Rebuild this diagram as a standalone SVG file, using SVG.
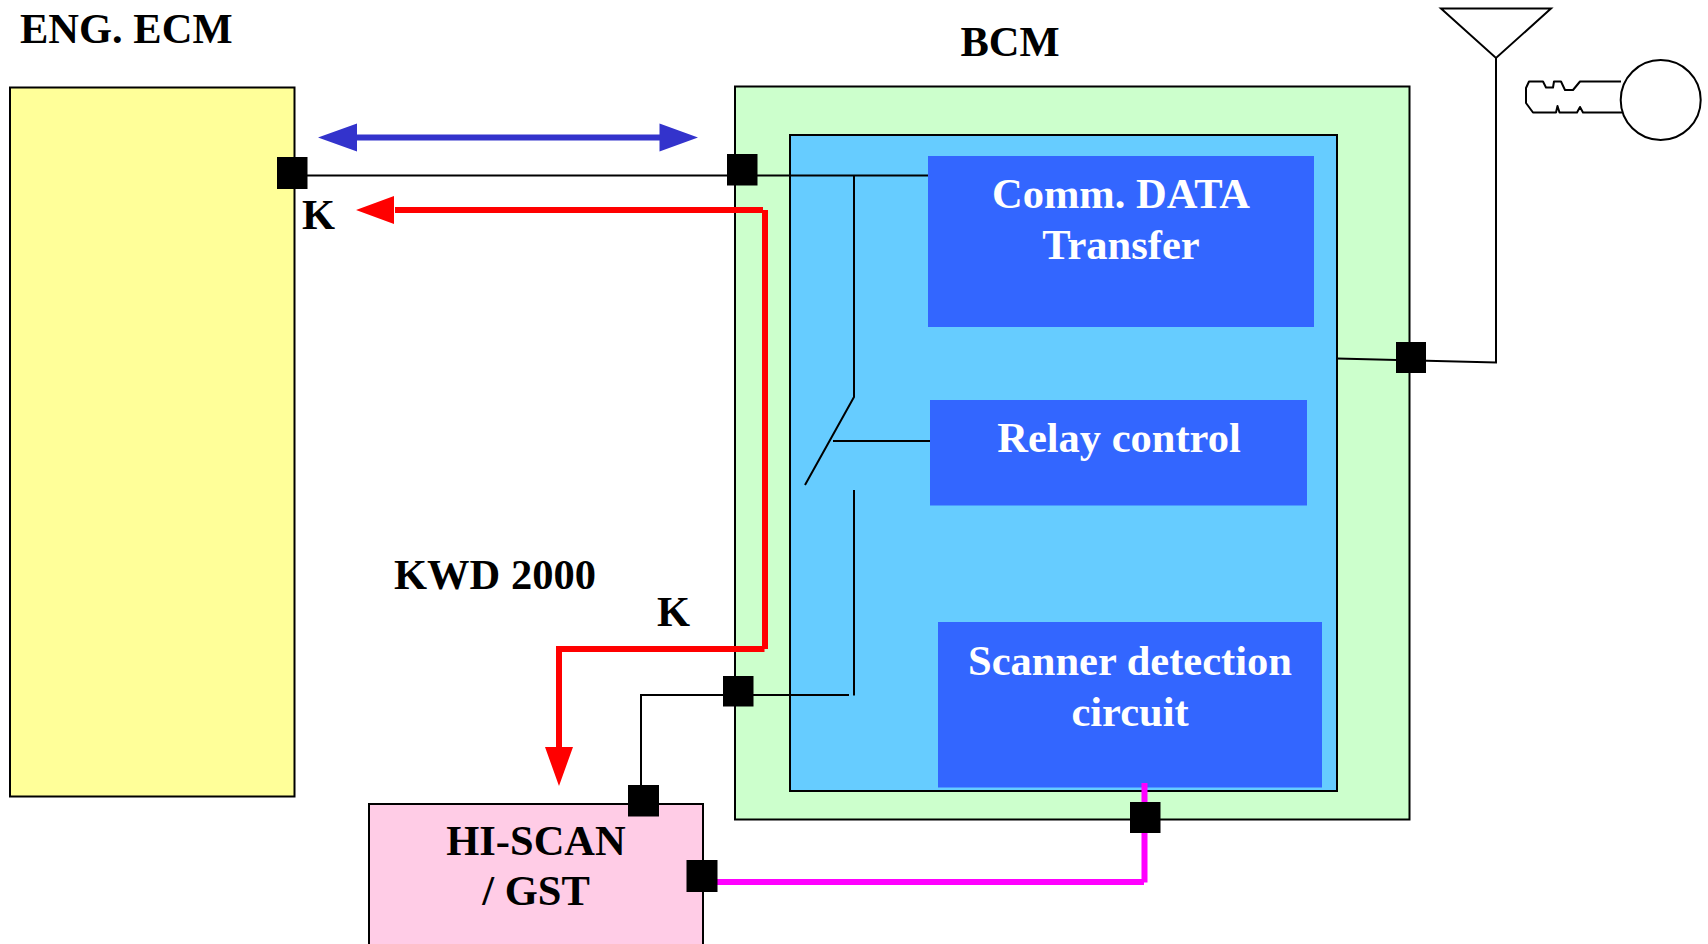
<svg xmlns="http://www.w3.org/2000/svg" width="1708" height="944" viewBox="0 0 1708 944">
<style>
text{font-family:"Liberation Serif","Times New Roman",serif;font-weight:bold;font-size:42.500px;fill:#000}
.w{fill:#fff;text-anchor:middle}
.m{text-anchor:middle}
.box{stroke:#000;stroke-width:2}
.p{fill:#3366ff}
.l{fill:none;stroke:#000;stroke-width:2}
.sq{fill:#000}
</style>
<rect width="1708" height="944" fill="#fff"/>
<g id="ecm"><rect class="box" x="10" y="87.500" width="284.500" height="709" fill="#ffff99"/><text x="20" y="42.500">ENG. ECM</text></g>
<g id="bcm"><rect class="box" x="735" y="86.500" width="674.500" height="733" fill="#ccffcc"/><text class="m" x="1010" y="55.500">BCM</text></g>
<g id="bcm-inner"><rect class="box" x="790" y="135" width="547" height="656" fill="#66ccff"/></g>
<g id="comm"><rect class="p" x="928" y="156" width="386" height="171"/><text class="w" x="1121" y="207.500">Comm. DATA</text><text class="w" x="1121" y="258.500">Transfer</text></g>
<g id="relay"><rect class="p" x="930" y="400" width="377" height="105.500"/><text class="w" x="1119" y="451.500">Relay control</text></g>
<g id="scanner"><rect class="p" x="938" y="622" width="384" height="165.500"/><text class="w" x="1130" y="674.500">Scanner detection</text><text class="w" x="1130" y="725.500">circuit</text></g>
<g id="hiscan"><rect class="box" x="369" y="804" width="334" height="150" fill="#ffcce6"/><text class="m" x="536" y="854.500">HI-SCAN</text><text class="m" x="536" y="905">/ GST</text></g>
<g id="labels"><text x="302" y="229">K</text><text x="394" y="589">KWD 2000</text><text x="657" y="626">K</text></g>
<g id="connectors">
<path class="l" d="M300 175.500H928M854 175.500V397L805 485M833 441H930M854 490V695.500M849 695H641V800M1337 358.500L1496 362.500V58"/>
<path d="M1144.500 783V882.500M1144 882H700" fill="none" stroke="#ff00ff" stroke-width="6"/>
<path d="M395 210H763M765 210V649M764.500 649H559M559 646V748" fill="none" stroke="#ff0000" stroke-width="6"/>
<path d="M356 210L394 196V224Z M559 786L545 747H573Z" fill="#ff0000"/>
<path d="M350 137.500H665" fill="none" stroke="#3333cc" stroke-width="6"/>
<path d="M318 137.500L357 123.500V151.500Z M698 137.500L659.500 123.500V151.500Z" fill="#3333cc"/>
</g>
<g id="antenna"><path class="l" d="M1441 8.500H1551L1496 58Z"/></g>
<g id="key"><circle cx="1660.700" cy="100" r="40" fill="#fff" stroke="#000" stroke-width="2"/><path class="l" stroke-linejoin="round" d="M1621 81.500H1580L1573 90H1565L1561 81.500H1554L1553 87.500H1546L1543 81.500H1529L1526 88V103L1533 112.500H1556L1557.500 106L1559.500 112.500H1577L1580 107L1583 112.500H1622"/></g>
<g id="ports">
<rect class="sq" x="277" y="157" width="30.500" height="32"/>
<rect class="sq" x="727" y="154" width="30.500" height="31.500"/>
<rect class="sq" x="723" y="676" width="30.500" height="30.500"/>
<rect class="sq" x="628" y="785" width="31" height="31.500"/>
<rect class="sq" x="686.500" y="860" width="31" height="32"/>
<rect class="sq" x="1130" y="802" width="30.500" height="31"/>
<rect class="sq" x="1396" y="342" width="30" height="31"/>
</g>
</svg>
